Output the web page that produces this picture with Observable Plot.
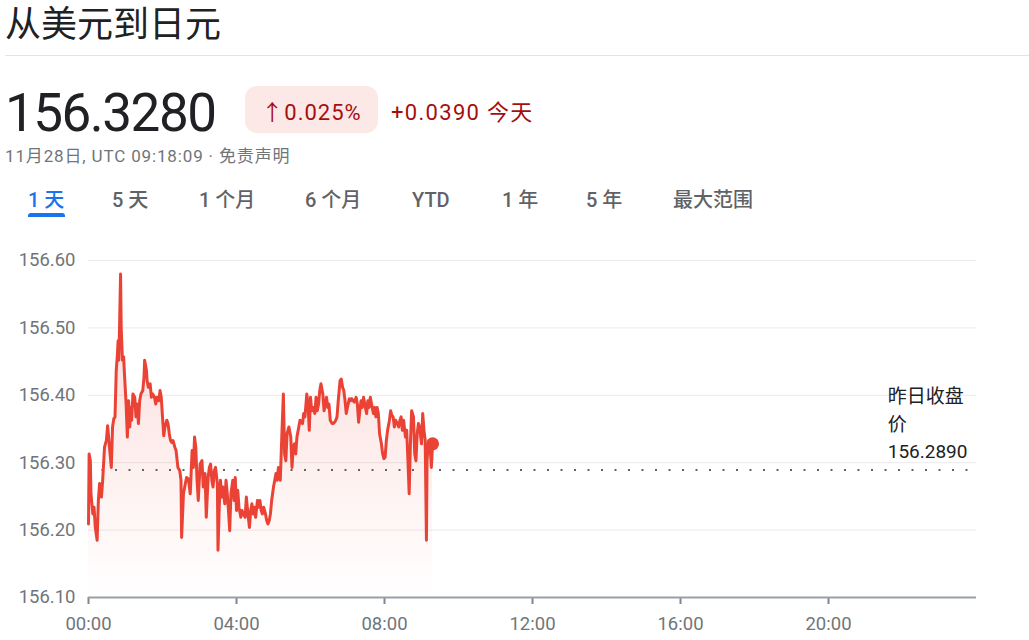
<!DOCTYPE html>
<html><head><meta charset="utf-8">
<script src="https://cdn.jsdelivr.net/npm/d3@7"></script>
<script src="https://cdn.jsdelivr.net/npm/@observablehq/plot@0.6"></script>
<style>
@font-face{font-family:"TitleCJK";src:local("Noto Sans CJK SC Regular"),local("NotoSansCJKsc-Regular"),local("Noto Sans CJK SC");ascent-override:88%;descent-override:12%;line-gap-override:0%}
body{margin:0;background:#fff;font-family:Roboto,"Noto Sans CJK SC",sans-serif;width:1029px;height:640px;overflow:hidden;position:relative}
.abs{position:absolute;white-space:nowrap}
#title{left:5px;top:5px;font-size:36px;line-height:36px;color:#202124;font-family:"TitleCJK","Noto Sans CJK SC",sans-serif}
#divider{left:5px;right:0;top:55px;height:1px;background:#e3e3e3}
#price{left:5px;top:87px;font-size:53px;line-height:53px;color:#202124;letter-spacing:-1.5px}
#pill{left:245px;top:86px;width:133px;height:47px;border-radius:12px;background:#fce8e6;color:#a50e0e;font-size:22px;display:flex;align-items:center;justify-content:center;letter-spacing:1px}
#change{left:391px;top:86px;height:47px;display:flex;align-items:center;color:#a50e0e;font-size:22px;letter-spacing:1.3px}
#date{left:5px;top:148px;font-size:17px;line-height:17px;color:#70757a;letter-spacing:0.85px}
.tab{top:190px;font-size:20px;line-height:20px;color:#5f6368;font-weight:500}
#tab0{color:#1a73e8}
#underline{left:28px;top:213px;width:37px;height:4px;background:#1a73e8;border-radius:3px 3px 0 0}
#chart{left:0;top:235px}
</style></head><body>
<div class="abs" id="title">从美元到日元</div>
<div class="abs" id="divider"></div>
<div class="abs" id="price">156.3280</div>
<div class="abs" id="pill">↑0.025%</div>
<div class="abs" id="change">+0.0390 今天</div>
<div class="abs" id="date">11月28日, UTC 09:18:09 · 免责声明</div>
<div class="abs tab" id="tab0" style="left:28px">1 天</div>
<div class="abs tab" style="left:112px">5 天</div>
<div class="abs tab" style="left:199px">1 个月</div>
<div class="abs tab" style="left:305px">6 个月</div>
<div class="abs tab" style="left:412px">YTD</div>
<div class="abs tab" style="left:502px">1 年</div>
<div class="abs tab" style="left:586px">5 年</div>
<div class="abs tab" style="left:673px">最大范围</div>
<div class="abs" id="underline"></div>
<div class="abs" id="chart"></div>
<script>
// minutes since 00:00 UTC
const minutes = [0,1,3,4,7,9,11,14,16,18,21,23,26,29,31,34,37,39,41,43,45,47,48,49,50,52,53,55,57,58,61,63,65,67,68,70,72,75,77,79,81,83,85,88,90,91,94,95,97,100,102,104,107,109,111,114,116,118,120,122,124,127,129,131,133,135,137,140,142,145,148,150,151,154,
156,159,162,165,168,170,172,174,176,178,181,184,186,189,191,194,196,198,200,202,204,206,209,210,212,214,216,218,221,223,225,227,229,231,234,236,238,240,242,244,247,249,251,254,256,258,261,263,265,267,269,271,274,276,278,280,282,284,287,289,291,293,295,297,300,302,304,306,308,311,
314,316,318,320,322,325,328,330,332,334,336,338,341,343,345,347,349,351,354,356,358,360,362,364,367,369,371,373,375,377,380,382,384,386,388,390,392,395,397,399,401,403,405,408,410,412,414,416,418,421,423,425,427,429,431,434,436,438,440,442,444,446,449,451,453,455,457,459,462,464,466,468,470,472,475,477,479,481,483,485,488,490,492,494,496,498,501,503,505,507,509,511,514,516,518,520,522,524,527,529,531,533,535,537,540,542,544,546,548,549,551,554,556,558];
const prices = [156.209,156.313,156.303,156.254,156.224,156.234,156.204,156.185,156.244,156.269,156.249,156.274,156.323,156.333,156.355,156.323,156.293,156.353,156.365,156.368,156.437,156.462,156.481,156.452,156.486,156.580,156.501,156.452,156.457,156.437,156.387,156.338,156.392,156.353,156.382,156.363,156.402,156.397,156.368,156.387,156.358,156.392,156.402,156.407,156.427,156.452,156.437,156.422,156.412,156.417,156.397,156.402,156.397,156.387,156.397,156.392,156.407,156.397,156.368,156.340,156.353,156.363,156.358,156.343,156.333,156.330,156.333,156.323,156.318,156.293,156.288,156.274,156.189,156.254,
156.264,156.278,156.276,156.254,156.318,156.293,156.338,156.323,156.274,156.244,156.298,156.303,156.264,156.284,156.219,156.278,156.293,156.298,156.274,156.264,156.288,156.293,156.269,156.170,156.234,156.274,156.249,156.264,156.239,156.274,156.254,156.229,156.199,156.254,156.274,156.244,156.278,156.229,156.259,156.234,156.219,156.229,156.224,156.219,156.249,156.229,156.204,156.229,156.239,156.224,156.234,156.219,156.244,156.234,156.244,156.229,156.224,156.234,156.224,156.214,156.209,156.214,156.224,156.244,156.264,156.274,156.284,156.274,156.293,156.274,
156.353,156.402,156.313,156.303,156.343,156.353,156.338,156.293,156.323,156.328,156.313,156.338,156.353,156.363,156.360,156.358,156.373,156.368,156.402,156.387,156.348,156.397,156.377,156.382,156.373,156.397,156.377,156.387,156.407,156.417,156.402,156.377,156.387,156.397,156.382,156.387,156.363,156.358,156.358,156.360,156.363,156.368,156.392,156.422,156.424,156.412,156.407,156.392,156.373,156.387,156.395,156.392,156.395,156.392,156.390,156.397,156.387,156.360,156.377,156.392,156.382,156.397,156.382,156.373,156.392,156.382,156.397,156.387,156.373,156.382,156.368,156.382,156.373,156.343,156.328,156.313,156.306,156.308,156.333,156.348,156.363,156.377,156.370,156.368,156.353,156.363,156.358,156.353,156.363,156.368,156.348,156.363,156.338,156.348,156.303,156.254,156.328,156.377,156.368,156.313,156.303,156.343,156.358,156.353,156.328,156.373,156.348,156.333,156.185,156.303,156.328,156.323,156.293,156.328];

const yTicks = [156.10, 156.20, 156.30, 156.40, 156.50, 156.60];
const xTickMinutes = [0, 240, 480, 720, 960, 1200];
const xTickLabels = ["00:00", "04:00", "08:00", "12:00", "16:00", "20:00"];
const prevClose = 156.289;
const prevCloseLabel = "昨日收盘\n价\n156.2890";
const labelMinute = [1296];

const data = minutes.map((m, i) => ({m, p: prices[i]}));
const last = data[data.length - 1];
const red = "#ea4335";

const gradient = () => {
  const defs = d3.create("svg:defs");
  const g = defs.append("linearGradient").attr("id", "fillGrad")
    .attr("x1", 0).attr("y1", 0).attr("x2", 0).attr("y2", 1);
  g.append("stop").attr("offset", "0%").attr("stop-color", red).attr("stop-opacity", 0.2);
  g.append("stop").attr("offset", "100%").attr("stop-color", red).attr("stop-opacity", 0);
  return defs.node();
};

const chart = Plot.plot({
  width: 1029,
  height: 405,
  marginLeft: 88,
  marginRight: 53,
  marginTop: 25,
  marginBottom: 43,
  style: {fontFamily: "Roboto, 'Noto Sans CJK SC', sans-serif", fontSize: "18.5px", color: "#70757a", background: "transparent", overflow: "visible"},
  x: {domain: [0, 1440]},
  y: {domain: [156.10, 156.60]},
  marks: [
    gradient,
    Plot.gridY(yTicks.slice(1), {stroke: "#ebebeb", strokeOpacity: 1, strokeWidth: 1}),
    Plot.axisY(yTicks, {anchor: "left", label: null, tickSize: 0, tickPadding: 13, tickFormat: d => d.toFixed(2), fill: "#70757a"}),
    Plot.axisX(xTickMinutes, {anchor: "bottom", label: null, tickSize: 7, tickPadding: 12, tickFormat: d => xTickLabels[xTickMinutes.indexOf(d)], stroke: "#80868b", strokeWidth: 2, fill: "#70757a"}),
    Plot.ruleY([156.10], {stroke: "#9aa0a6", strokeWidth: 2}),
    Plot.areaY(data, {x: "m", y1: 156.10, y2: "p", fill: "url(#fillGrad)"}),
    Plot.ruleY([prevClose], {stroke: "#5f6368", strokeWidth: 2, strokeDasharray: "2,11.5"}),
    Plot.lineY(data, {x: "m", y: "p", stroke: red, strokeWidth: 3, strokeLinejoin: "round"}),
    Plot.dot([last], {x: "m", y: "p", r: 6.5, fill: red}),
    Plot.text(labelMinute, {x: d => d, y: () => prevClose, text: () => prevCloseLabel, textAnchor: "start", lineAnchor: "bottom", dy: -12, fontSize: 19, lineHeight: 1.45, fill: "#202124"})
  ]
});
document.getElementById("chart").appendChild(chart);
</script>
</body></html>
